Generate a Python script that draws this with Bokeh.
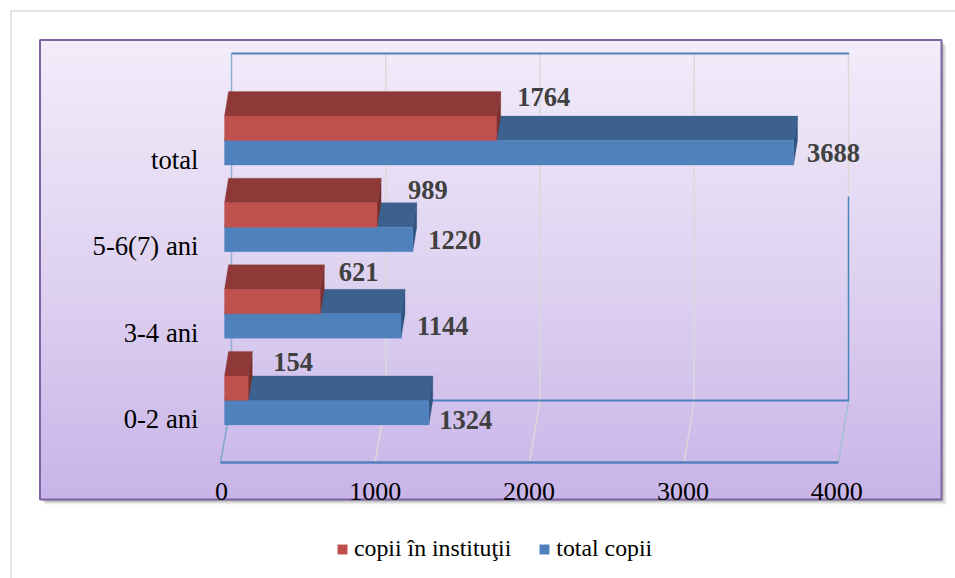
from bokeh.plotting import figure
from bokeh.models import Range1d, LinearAxis, FixedTicker, Legend, LegendItem
from bokeh.core.properties import value
from bokeh.embed import file_html
from bokeh.resources import INLINE

categories = ["0-2 ani", "3-4 ani", "5-6(7) ani", "total"]
copii_institutii = [154, 621, 989, 1764]
total_copii = [1324, 1144, 1220, 3688]
x_ticks = [0, 1000, 2000, 3000, 4000]

# style / layout constants (reference pixels)
W, H = 955, 578
L, T = 0, 0
R, B = L + W, T + H
K = 0.1543          # px per unit
Y0, DY = 399.9, 86.6  # px of the boundary of the first group; px per category
DEPTH_X, DEPTH_Y = 4.0, 24.5
THICK = 24.5

red_off = ([25, 18.5, 31, 20.5], [-13.5, -17.5, -13, -19.5])
blue_off = ([10.5, 16, 15.5, 13.5], [7, -0.5, 0.5, 0])

FONT = "Liberation Serif"

p = figure(width=W, height=H, output_backend="svg", toolbar_location=None,
           x_range=Range1d((L - 224) / K, (R - 224) / K),
           y_range=Range1d((Y0 - B) / DY, (Y0 - T) / DY),
           x_axis_location=None, y_axis_location=None,
           min_border=0, outline_line_color=None, background_fill_color="white",
           border_fill_color="white")
p.grid.visible = False
p.extra_x_ranges = {"px": Range1d(L, R), "floor": Range1d((L - 221) / 0.1538, (R - 221) / 0.1538)}
p.extra_y_ranges = {"py": Range1d(B, T), "labels": Range1d((418.5 - B) / 86.4, (418.5 - T) / 86.4)}


def hexmix(a, b, t):
    return "#%02x%02x%02x" % tuple(round(x + (y - x) * t) for x, y in zip(a, b))


def px(kind, **kw):
    return getattr(p, kind)(x_range_name="px", y_range_name="py", **kw)


# outer hairline frame
px("line", x=[10.5, 10.5, R], y=[B, 10.5, 10.5], line_color="#D9D9D9", line_width=1.5)

# panel shadow
for i, a in enumerate([0.05, 0.06, 0.08, 0.10, 0.12]):
    o = 5 - i
    px("quad", left=[40 + o], right=[941 + o], top=[40 + o], bottom=[499 + o],
       fill_color="#000000", fill_alpha=a, line_color=None)

# panel gradient
stops = [(0.0, (0xF2, 0xEC, 0xFA)), (0.5, (0xDF, 0xD3, 0xF1)), (1.0, (0xC8, 0xB4, 0xE8))]
ptop, pbot = 39, 499
tops, bots, cols = [], [], []
for y in range(ptop, pbot, 2):
    f = (y - ptop) / (pbot - ptop)
    (a0, c0), (a1, c1) = (stops[0], stops[1]) if f < 0.5 else (stops[1], stops[2])
    cols.append(hexmix(c0, c1, (f - a0) / (a1 - a0)))
    tops.append(y)
    bots.append(y + 2.5)
px("quad", left=[39] * len(tops), right=[941] * len(tops), top=tops, bottom=bots,
   fill_color=cols, line_color=None)
px("quad", left=[39.5], right=[941], top=[39.5], bottom=[499], fill_color=None,
   line_color="#8064A2", line_width=2)

# walls and floor grid
for i, t in enumerate(x_ticks):
    xw = 231 + 0.15425 * t
    xf = 220 + 0.1545 * t
    if i in (1, 2, 3):
        px("line", x=[xw, xw, xf], y=[53, 400, 462], line_color="#D9D9D9", line_width=1.5)
px("line", x=[231, 231], y=[53, 400], line_color="#8FB0D6", line_width=1.5)
px("line", x=[231, 220], y=[400, 462], line_color="#82A6CF", line_width=1.5)
px("line", x=[848, 848], y=[53, 196], line_color="#D9D9D9", line_width=1.5)
px("line", x=[848, 848], y=[196, 400], line_color="#4F81BD", line_width=1.5)
px("line", x=[848, 838], y=[400, 462], line_color="#A3BDD6", line_width=1.5)
px("line", x=[231, 848.5], y=[53, 53], line_color="#4F81BD", line_width=2)
px("line", x=[231, 848.5], y=[400, 400], line_color="#4F81BD", line_width=2)
px("line", x=[220, 838], y=[462, 462], line_color="#4F81BD", line_width=2.5)

dx = DEPTH_X / K
dy = DEPTH_Y / DY
th = THICK / DY


def bars(vals, ytop_of, front, top, side):
    idx = range(len(vals))
    front_x = [[0, v, v, 0] for v in vals]
    front_y = [[ytop_of(i), ytop_of(i), ytop_of(i) - th, ytop_of(i) - th] for i in idx]
    top_x = [[0, v, v + dx, dx] for v in vals]
    top_y = [[ytop_of(i), ytop_of(i), ytop_of(i) + dy, ytop_of(i) + dy] for i in idx]
    side_x = [[v, v + dx, v + dx, v] for v in vals]
    side_y = [[ytop_of(i) - th, ytop_of(i) - th + dy, ytop_of(i) + dy, ytop_of(i)] for i in idx]
    p.patches(top_x, top_y, fill_color=top, line_color=top, line_width=0.3)
    p.patches(side_x, side_y, fill_color=side, line_color=side, line_width=0.3)
    return p.patches(front_x, front_y, fill_color=front, line_color=front, line_width=0.3)


r_blue = bars(total_copii, lambda i: i, "#4F81BD", "#3C618E", "#2F5581")
r_red = bars(copii_institutii, lambda i: i + th, "#C0504D", "#8E3937", "#7A2F2D")

# data labels
lab = dict(text_font=value(FONT), text_font_style="bold", text_font_size="26.5px",
           text_color="#404040", text_baseline="middle", text_align="left")
p.text(x=copii_institutii, y=[i + th for i in range(4)], text=[str(v) for v in copii_institutii],
       x_offset=red_off[0], y_offset=red_off[1], **lab)
p.text(x=total_copii, y=[i - th / 2 for i in range(4)], text=[str(v) for v in total_copii],
       x_offset=blue_off[0], y_offset=blue_off[1], **lab)

# axes pinned inside the frame
xa = LinearAxis(x_range_name="floor", y_range_name="py", fixed_location=476.5,
                ticker=FixedTicker(ticks=x_ticks), major_label_standoff=0,
                major_tick_line_color=None, minor_tick_line_color=None, axis_line_color=None,
                major_label_text_font=FONT, major_label_text_font_size="26px",
                major_label_text_color="#000000")
p.add_layout(xa, "below")

ya = LinearAxis(x_range_name="px", y_range_name="labels", fixed_location=204,
                ticker=FixedTicker(ticks=list(range(len(categories)))),
                major_label_overrides={i: c for i, c in enumerate(categories)},
                major_label_standoff=0,
                major_tick_line_color=None, minor_tick_line_color=None, axis_line_color=None,
                major_label_text_font=FONT, major_label_text_font_size="26.7px",
                major_label_text_color="#000000")
p.add_layout(ya, "left")

legend = Legend(items=[LegendItem(label="copii în instituţii", renderers=[r_red]),
                       LegendItem(label="total copii", renderers=[r_blue])],
                orientation="horizontal", location=(336 - L, B - 562),
                background_fill_alpha=0, border_line_color=None, padding=0, margin=0,
                glyph_width=12, glyph_height=12, label_standoff=6, spacing=27,
                label_text_font=FONT, label_text_font_size="23.8px", label_text_color="#000000")
p.add_layout(legend, "center")

open("out.html", "w").write(file_html(p, INLINE))
